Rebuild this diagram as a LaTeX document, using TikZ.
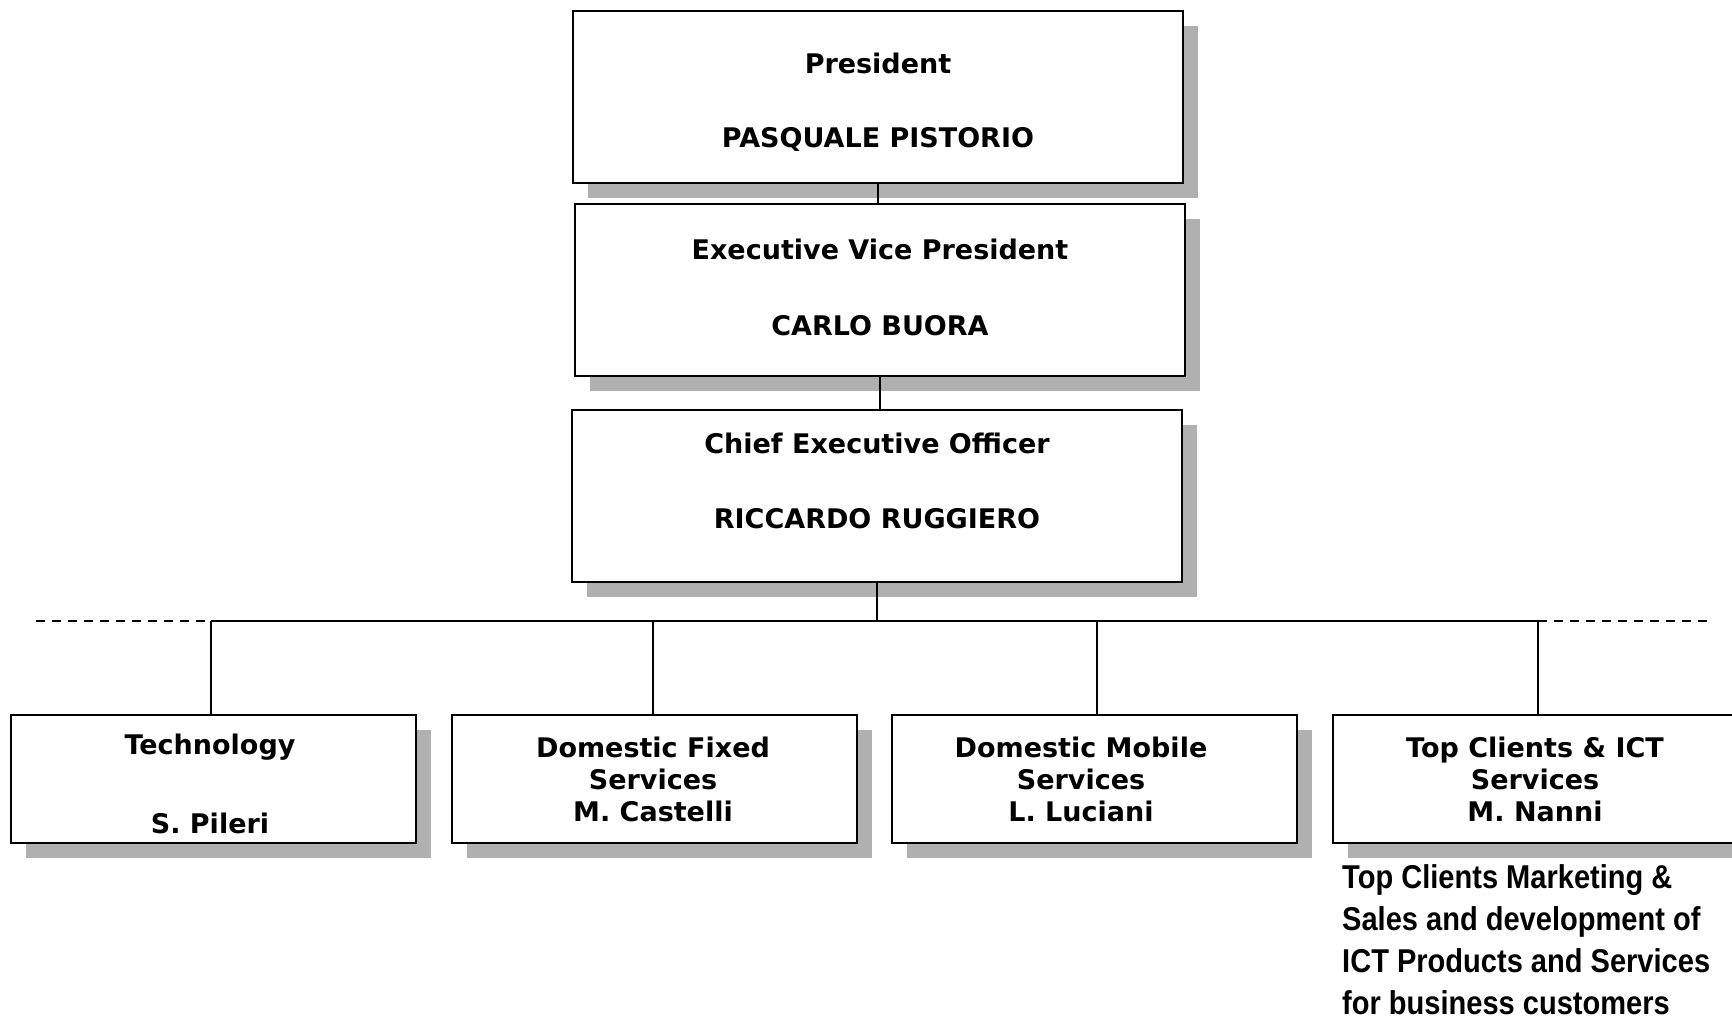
\documentclass[tikz,border=0pt]{standalone}
\usepackage{fontspec}
\setmainfont{DejaVu Sans}
\newfontfamily\notefont[FakeStretch=0.88]{Liberation Sans Bold}
\usetikzlibrary{shadows,calc}
\definecolor{shadowgray}{HTML}{B0B0B0}
\tikzset{
  unitbox/.style={draw=black, line width=2pt, fill=white, rectangle,
    drop shadow={shadow xshift=15pt, shadow yshift=-15pt, fill=shadowgray, opacity=1},
    inner sep=0pt},
  topbox/.style={unitbox, minimum width=610pt, minimum height=172pt},
  deptbox/.style={unitbox, minimum width=405pt, minimum height=128pt},
  boxtext/.style={font=\fontsize{27}{32}\selectfont\bfseries, align=center, inner sep=0pt},
  link/.style={line width=1.6pt, draw=black},
  ext/.style={line width=1.6pt, draw=black, dash pattern=on 9pt off 7pt},
}
\begin{document}
\begin{tikzpicture}[x=1pt,y=-1pt]
\useasboundingbox (0,0) rectangle (1732,1017);

% top of the chart: president, executive vice president, CEO
\node[topbox] (pres) at (878,97) {};
\node[boxtext] (presT) at (878,63) {President};
\node[boxtext] (presN) at (878,139) {PASQUALE PISTORIO};

\node[topbox] (evp) at (880,290) {};
\node[boxtext] (evpT) at (880,249) {Executive Vice President};
\node[boxtext] (evpN) at (880,326) {CARLO BUORA};

\node[topbox] (ceo) at (877,496) {};
\node[boxtext] (ceoT) at (877,443) {Chief Executive Officer};
\node[boxtext] (ceoN) at (877,519) {RICCARDO RUGGIERO};

% business units
\node[deptbox] (tech) at (213,779) {};
\node[boxtext] (techT) at (210,747) {Technology};
\node[boxtext] (techN) at (210,823) {S. Pileri};

\node[deptbox] (dfs) at (654,779) {};
\node[boxtext] (dfsT) at (653,779) {Domestic Fixed\\Services\\M. Castelli};

\node[deptbox] (dms) at (1094,779) {};
\node[boxtext] (dmsT) at (1081,779) {Domestic Mobile\\Services\\L. Luciani};

\node[deptbox] (tc) at (1535,779) {};
\node[boxtext] (tcT) at (1535,779) {Top Clients \& ICT\\Services\\M. Nanni};

% reporting lines
\coordinate (bus) at (878,621);
\coordinate (busL) at (36,621);
\coordinate (busR) at (1712,621);
\coordinate (dTech) at ($(tech.north)+(-2,0)$);
\coordinate (dDfs) at ($(dfs.north)+(-1,0)$);
\coordinate (dDms) at ($(dms.north)+(3,0)$);
\coordinate (dTc) at ($(tc.north)+(3,0)$);
\draw[link] (pres.south) -- (pres.south |- evp.north);
\draw[link] (evp.south) -- (evp.south |- ceo.north);
\draw[link] (ceo.south) -- (ceo.south |- bus);
\draw[link] (dTech |- bus) -- (dTc |- bus);
\draw[ext] (busL) -- (dTech |- bus);
\draw[ext] (dTc |- bus) -- (busR);
\foreach \u in {dTech,dDfs,dDms,dTc}
  \draw[link] (\u |- bus) -- (\u);

% description of the top clients unit
\node[anchor=north west, align=left, inner sep=0pt,
      font=\notefont\fontsize{33}{42}\selectfont] (tcNote) at (1342,864)
  {Top Clients Marketing \&\\Sales and development of\\ICT Products and Services\\for business customers};
\end{tikzpicture}
\end{document}
